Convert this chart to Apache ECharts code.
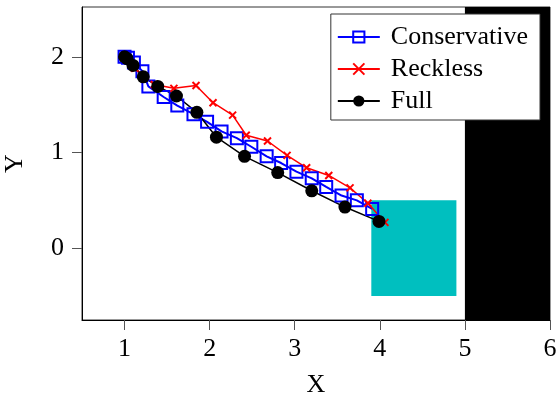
<!DOCTYPE html>
<html>
<head>
<meta charset="utf-8">
<script src="https://cdn.jsdelivr.net/npm/echarts@6/dist/echarts.min.js"></script>
<style>html,body{margin:0;padding:0;background:#fff}#c{width:557px;height:395px}</style>
</head>
<body>
<div id="c"></div>
<script>
// ---- data ----
const conservativeX = [1.0, 1.04, 1.11, 1.21, 1.28, 1.46, 1.62, 1.81, 1.97, 2.14, 2.32, 2.49, 2.67, 2.84, 3.02, 3.20, 3.37, 3.55, 3.73, 3.91];
const conservativeY = [2.0, 1.99, 1.94, 1.85, 1.69, 1.58, 1.49, 1.40, 1.32, 1.22, 1.15, 1.06, 0.96, 0.89, 0.80, 0.73, 0.64, 0.55, 0.50, 0.41];
const recklessX = [1.0, 1.12, 1.35, 1.58, 1.84, 2.04, 2.27, 2.43, 2.68, 2.91, 3.14, 3.40, 3.65, 3.86, 4.06];
const recklessY = [2.0, 1.88, 1.71, 1.67, 1.70, 1.52, 1.39, 1.18, 1.12, 0.97, 0.84, 0.76, 0.63, 0.47, 0.27];
const fullX = [1.0, 1.03, 1.10, 1.22, 1.39, 1.61, 1.85, 2.08, 2.41, 2.80, 3.20, 3.59, 3.99];
const fullY = [2.0, 1.98, 1.91, 1.79, 1.69, 1.59, 1.42, 1.16, 0.96, 0.79, 0.60, 0.43, 0.28];
// rectangles: [x0, x1, y0, y1]
const obstacleRect = [5, 6, -0.75, 2.52];
const goalRect = [3.9, 4.9, -0.5, 0.5];
const xTicks = [1, 2, 3, 4, 5, 6];
const yTicks = [0, 1, 2];
const seriesNames = ['Conservative', 'Reckless', 'Full'];

const zip = (xs, ys) => xs.map((x, i) => [x, ys[i]]);
const FONT = 'Liberation Serif';

function rectSeries(rect, color) {
  return {
    type: 'custom',
    z: 1,
    silent: true,
    clip: true,
    encode: { x: [0, 1], y: [2, 3] },
    data: [rect],
    renderItem: function (params, api) {
      const p0 = api.coord([api.value(0), api.value(3)]);
      const p1 = api.coord([api.value(1), api.value(2)]);
      return {
        type: 'rect',
        shape: { x: p0[0], y: p0[1], width: p1[0] - p0[0], height: p1[1] - p0[1] },
        style: { fill: color }
      };
    }
  };
}

const chart = echarts.init(document.getElementById('c'), null, { renderer: 'canvas' });
chart.setOption({
  animation: false,
  backgroundColor: '#fff',
  grid: { left: 82, right: 7, top: 7, bottom: 75, outerBoundsMode: 'none', containLabel: false, show: true, borderColor: '#333', borderWidth: 1, backgroundColor: '#fff' },
  legend: {
    data: seriesNames,
    orient: 'vertical',
    right: 17,
    top: 14,
    itemWidth: 42,
    itemHeight: 14,
    itemGap: 6,
    padding: [10, 12, 6, 6],
    backgroundColor: '#fff',
    borderColor: '#333',
    borderWidth: 1,
    borderRadius: 0,
    textStyle: { fontFamily: FONT, fontSize: 26, color: '#000', padding: [0, 0, 0, 6] }
  },
  xAxis: {
    type: 'value', min: 0.5, max: 6,
    name: 'X', nameLocation: 'middle', nameGap: 52,
    nameTextStyle: { fontFamily: FONT, fontSize: 26, color: '#000' },
    axisLine: { show: true, onZero: false, lineStyle: { color: '#000', width: 1 } },
    axisTick: { show: true, inside: false, length: 10, customValues: xTicks, lineStyle: { color: '#555' } },
    axisLabel: { customValues: xTicks, margin: 16, fontFamily: FONT, fontSize: 26, color: '#000' },
    splitLine: { show: false }
  },
  yAxis: {
    type: 'value', min: -0.75, max: 2.52,
    name: 'Y', nameLocation: 'middle', nameGap: 54, nameRotate: 90,
    nameTextStyle: { fontFamily: FONT, fontSize: 26, color: '#000' },
    axisLine: { show: true, onZero: false, lineStyle: { color: '#000', width: 1 } },
    axisTick: { show: true, inside: false, length: 10, customValues: yTicks, lineStyle: { color: '#555' } },
    axisLabel: { customValues: yTicks, margin: 18, fontFamily: FONT, fontSize: 26, color: '#000' },
    splitLine: { show: false }
  },
  series: [
    rectSeries(obstacleRect, '#000000'),
    rectSeries(goalRect, '#00BFBF'),
    {
      name: seriesNames[0], type: 'line', z: 2,
      data: zip(conservativeX, conservativeY),
      symbol: 'rect', symbolSize: 12,
      lineStyle: { color: '#0000FF', width: 2 },
      itemStyle: { color: 'rgba(255,255,255,0)', borderColor: '#0000FF', borderWidth: 2 }
    },
    {
      name: seriesNames[1], type: 'line', z: 2,
      data: zip(recklessX, recklessY),
      symbol: 'path://M0,0L10,10M10,0L0,10', symbolSize: 7,
      lineStyle: { color: '#FF0000', width: 1.5 },
      itemStyle: { color: '#FF0000', borderColor: '#FF0000', borderWidth: 2 }
    },
    {
      name: seriesNames[2], type: 'line', z: 2,
      data: zip(fullX, fullY),
      symbol: 'circle', symbolSize: 13,
      lineStyle: { color: '#000000', width: 1.5 },
      itemStyle: { color: '#000000' }
    }
  ]
});
</script>
</body>
</html>
